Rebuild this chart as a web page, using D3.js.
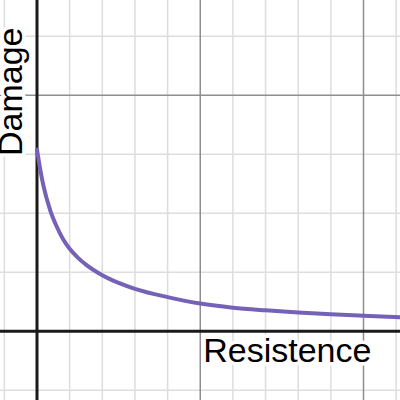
<!DOCTYPE html>
<html>
<head>
<meta charset="utf-8">
<script src="https://cdn.jsdelivr.net/npm/d3@7"></script>
<style>
  html, body { margin: 0; padding: 0; background: #fff; }
  svg { display: block; }
</style>
</head>
<body>
<svg id="chart" width="400" height="400"></svg>
<script>
// curve: resistence (x) vs damage (y)
const resistence = [0, 0.1, 0.2, 0.4, 0.6, 0.8, 1.0, 1.25, 1.5, 2, 2.5, 3, 4, 5, 6, 7, 8, 9, 10, 11.2];
const damage = [1.54, 1.37, 1.23, 1.03, 0.89, 0.78, 0.70, 0.625, 0.565, 0.475, 0.41, 0.36, 0.29, 0.235, 0.2, 0.178, 0.16, 0.145, 0.132, 0.118];

const xLabel = "Resistence";
const yLabel = "Damage";

const svg = d3.select("#chart"),
    width = +svg.attr("width"),
    height = +svg.attr("height");

const x = d3.scaleLinear().domain([-1.133, 11.118]).range([0, width]);
const y = d3.scaleLinear().domain([-0.582, 2.808]).range([height, 0]);

// minor grid: x every 1, y every 0.5 ; major: x every 5, y every 2
const minorX = d3.range(-1, 12, 1).filter(d => d !== 0 && d % 5 !== 0);
const majorX = d3.range(-5, 15, 5).filter(d => d !== 0);
const minorY = d3.range(-0.5, 3, 0.5).filter(d => d !== 0 && d % 2 !== 0);
const majorY = [2];

const grid = svg.append("g").attr("class", "grid");

grid.selectAll("line.minx")
    .data(minorX)
    .enter().append("line")
    .attr("x1", d => x(d)).attr("x2", d => x(d))
    .attr("y1", 0).attr("y2", height)
    .attr("stroke", "#dddddd")
    .attr("stroke-width", 1.5);

grid.selectAll("line.miny")
    .data(minorY)
    .enter().append("line")
    .attr("y1", d => y(d)).attr("y2", d => y(d))
    .attr("x1", 0).attr("x2", width)
    .attr("stroke", "#dddddd")
    .attr("stroke-width", 1.5);

grid.selectAll("line.majx")
    .data(majorX)
    .enter().append("line")
    .attr("x1", d => x(d)).attr("x2", d => x(d))
    .attr("y1", 0).attr("y2", height)
    .attr("stroke", "#8e8e8e")
    .attr("stroke-width", 1.5);

grid.selectAll("line.majy")
    .data(majorY)
    .enter().append("line")
    .attr("y1", d => y(d)).attr("y2", d => y(d))
    .attr("x1", 0).attr("x2", width)
    .attr("stroke", "#8e8e8e")
    .attr("stroke-width", 1.5);

// axes
svg.append("line")
    .attr("x1", x(0)).attr("x2", x(0))
    .attr("y1", 0).attr("y2", height)
    .attr("stroke", "#1a1a1a")
    .attr("stroke-width", 3);

svg.append("line")
    .attr("y1", y(0)).attr("y2", y(0))
    .attr("x1", 0).attr("x2", width)
    .attr("stroke", "#1a1a1a")
    .attr("stroke-width", 3);

// labels with white halo
svg.append("text")
    .attr("x", x(5) + 3)
    .attr("y", y(0) + 31)
    .text(xLabel)
    .style("font-family", "'Liberation Sans', Arial, sans-serif")
    .style("font-size", "34px")
    .attr("fill", "#000")
    .attr("stroke", "#fff")
    .attr("stroke-width", 7)
    .attr("stroke-linejoin", "round")
    .attr("paint-order", "stroke");

svg.append("text")
    .attr("transform", `translate(${x(0) - 15},156) rotate(-90)`)
    .text(yLabel)
    .style("font-family", "'Liberation Sans', Arial, sans-serif")
    .style("font-size", "34px")
    .attr("fill", "#000")
    .attr("stroke", "#fff")
    .attr("stroke-width", 7)
    .attr("stroke-linejoin", "round")
    .attr("paint-order", "stroke");

// curve
const pts = resistence.map((d, i) => [d, damage[i]]);
const line = d3.line()
    .x(d => x(d[0]))
    .y(d => y(d[1]))
    .curve(d3.curveMonotoneX);

svg.append("path")
    .datum(pts)
    .attr("d", line)
    .attr("fill", "none")
    .attr("stroke", "#7561b8")
    .attr("stroke-width", 4)
    .attr("stroke-linecap", "round");
</script>
</body>
</html>
